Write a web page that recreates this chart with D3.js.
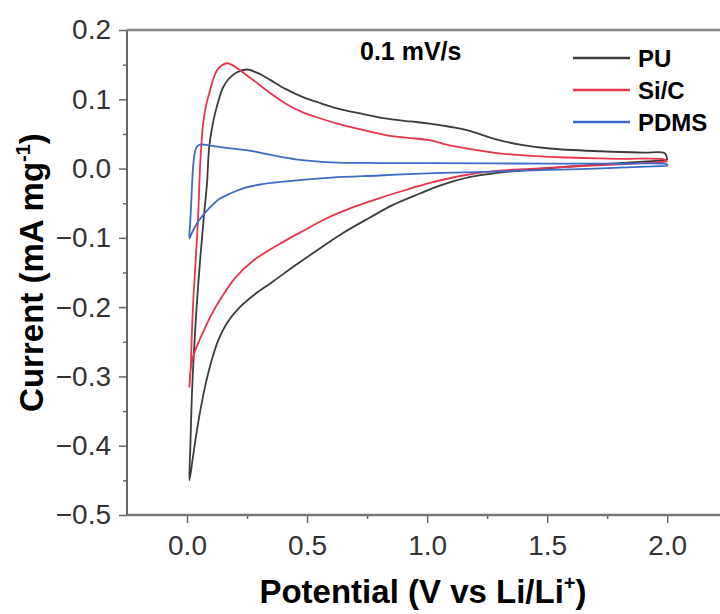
<!DOCTYPE html>
<html lang="en">
  <head>
    <meta charset="UTF-8" />
    <title>Cyclic voltammetry at 0.1 mV/s</title>
    <script src="https://d3js.org/d3.v7.min.js"></script>
    <style>
      body {
        margin: 0;
        background: #fff;
        font-family: "Liberation Sans", Arial, sans-serif;
      }
      .tick-label {
        font-size: 28px;
        fill: #333;
      }
      .cv-line {
        fill: none;
        stroke-width: 1.8;
        stroke-linejoin: round;
      }
    </style>
  </head>
  <body>
    <svg width="720" height="614" id="chart"></svg>

    <script>
      // series names + colors (legend order)
      const seriesNames = ["PU", "Si/C", "PDMS"];
      const seriesColors = ["#3c3c3c", "#e8344c", "#3d6bc6"];

      // [potential (V), current (mA mg-1)]
      // each loop: cathodic sweep 2.0 -> 0.01 V, then anodic back to 2.0 V
      const puCurve = [
        [2.0, 0.012], [1.8, 0.008], [1.6, 0.003], [1.45, -0.001], [1.3, -0.006],
        [1.18, -0.012], [1.05, -0.025], [0.97, -0.036], [0.86, -0.052],
        [0.76, -0.071], [0.65, -0.093], [0.55, -0.116], [0.45, -0.14],
        [0.35, -0.165], [0.28, -0.182], [0.22, -0.2], [0.17, -0.221],
        [0.13, -0.248], [0.1, -0.28], [0.075, -0.315], [0.055, -0.35],
        [0.038, -0.385], [0.024, -0.418], [0.01, -0.45],
        [0.014, -0.4], [0.02, -0.33], [0.028, -0.27], [0.04, -0.2],
        [0.055, -0.13], [0.07, -0.07], [0.083, -0.022], [0.092, 0.03],
        [0.105, 0.06], [0.117, 0.08], [0.133, 0.1], [0.15, 0.117],
        [0.175, 0.13], [0.208, 0.139], [0.25, 0.143], [0.3, 0.137],
        [0.346, 0.128], [0.41, 0.115], [0.483, 0.103], [0.55, 0.095],
        [0.625, 0.087], [0.73, 0.079], [0.833, 0.072], [0.93, 0.068],
        [1.01, 0.065], [1.1, 0.06], [1.17, 0.055], [1.3, 0.041],
        [1.4, 0.034], [1.51, 0.029], [1.72, 0.025], [1.9, 0.023],
        [1.99, 0.022], [2.0, 0.012]
      ];

      const sicCurve = [
        [2.0, 0.01], [1.8, 0.006], [1.6, 0.003], [1.45, 0.0], [1.3, -0.003],
        [1.15, -0.01], [1.02, -0.02], [0.9, -0.032], [0.79, -0.044],
        [0.69, -0.056], [0.58, -0.072], [0.483, -0.09], [0.38, -0.11],
        [0.275, -0.133], [0.2, -0.158], [0.14, -0.188], [0.1, -0.212],
        [0.067, -0.236], [0.045, -0.253], [0.025, -0.272], [0.015, -0.29],
        [0.01, -0.315],
        [0.015, -0.29], [0.02, -0.24], [0.026, -0.19], [0.033, -0.15],
        [0.046, -0.071], [0.054, 0.001], [0.06, 0.035], [0.067, 0.065],
        [0.08, 0.092], [0.096, 0.113], [0.11, 0.13], [0.125, 0.142],
        [0.145, 0.149], [0.167, 0.152], [0.185, 0.15], [0.208, 0.145],
        [0.24, 0.137], [0.275, 0.128], [0.346, 0.109], [0.41, 0.094],
        [0.483, 0.081], [0.55, 0.073], [0.625, 0.065], [0.73, 0.056],
        [0.833, 0.048], [0.93, 0.044], [1.01, 0.041], [1.1, 0.033],
        [1.2, 0.027], [1.3, 0.022], [1.45, 0.018], [1.58, 0.016],
        [1.8, 0.014], [1.99, 0.013], [2.0, 0.01]
      ];

      const pdmsCurve = [
        [2.0, 0.004], [1.7, 0.0], [1.5, -0.002], [1.2, -0.005], [1.0, -0.007],
        [0.8, -0.01], [0.6, -0.013], [0.46, -0.017], [0.32, -0.022],
        [0.24, -0.028], [0.18, -0.036], [0.13, -0.045], [0.096, -0.056],
        [0.065, -0.068], [0.04, -0.08], [0.02, -0.093], [0.01, -0.101],
        [0.013, -0.08], [0.018, -0.046], [0.025, 0.001], [0.032, 0.022],
        [0.04, 0.031], [0.05, 0.034], [0.062, 0.035], [0.096, 0.033],
        [0.18, 0.029], [0.24, 0.027], [0.29, 0.024], [0.36, 0.019],
        [0.46, 0.013], [0.6, 0.009], [0.8, 0.008], [1.0, 0.008],
        [1.5, 0.007], [1.8, 0.007], [2.0, 0.006], [2.0, 0.004]
      ];

      const curves = [puCurve, sicCurve, pdmsCurve];

      const xTicks = [0.0, 0.5, 1.0, 1.5, 2.0];
      const yTicks = [-0.5, -0.4, -0.3, -0.2, -0.1, 0.0, 0.1, 0.2];
      const xMinorTicks = [0.25, 0.75, 1.25, 1.75];
      const yMinorTicks = [-0.45, -0.35, -0.25, -0.15, -0.05, 0.05, 0.15];

      const svg = d3.select("#chart");
      const width = +svg.attr("width");
      const height = +svg.attr("height");

      const margins = { top: 30, right: 0, bottom: 99, left: 127 };
      const chartWidth = width - margins.left - margins.right;
      const chartHeight = height - margins.top - margins.bottom;

      const xScale = d3.scaleLinear().domain([-0.25, 2.22]).range([0, chartWidth]);
      const yScale = d3.scaleLinear().domain([-0.5, 0.2]).range([chartHeight, 0]);

      const chartArea = svg
        .append("g")
        .attr("transform", `translate(${margins.left},${margins.top})`);

      const axisColor = "#666";
      const fmt = (d) => d3.format(".1f")(d).replace("-", "\u2212");

      // x axis (major + minor)
      const xAxis = chartArea
        .append("g")
        .attr("transform", `translate(0,${chartHeight})`);
      xAxis
        .call(d3.axisBottom(xScale).tickValues(xTicks).tickSize(8).tickFormat(fmt))
        .call((g) => g.select(".domain").remove());
      xAxis
        .append("g")
        .call(d3.axisBottom(xScale).tickValues(xMinorTicks).tickSize(4).tickFormat(""))
        .call((g) => g.select(".domain").remove());
      xAxis.selectAll("line").attr("stroke", axisColor).attr("stroke-width", 1.5);
      xAxis
        .selectAll(".tick text")
        .attr("class", "tick-label")
        .attr("y", 20)
        .attr("dy", "0.71em");

      // y axis (major + minor)
      const yAxis = chartArea.append("g");
      yAxis
        .call(d3.axisLeft(yScale).tickValues(yTicks).tickSize(8).tickFormat(fmt))
        .call((g) => g.select(".domain").remove());
      yAxis
        .append("g")
        .call(d3.axisLeft(yScale).tickValues(yMinorTicks).tickSize(4).tickFormat(""))
        .call((g) => g.select(".domain").remove());
      yAxis.selectAll("line").attr("stroke", axisColor).attr("stroke-width", 1.5);
      yAxis
        .selectAll(".tick text")
        .attr("class", "tick-label")
        .attr("x", -16);

      // frame: left, bottom, top
      chartArea
        .append("line")
        .attr("x1", 0).attr("x2", 0)
        .attr("y1", 0).attr("y2", chartHeight)
        .attr("stroke", axisColor).attr("stroke-width", 2);
      chartArea
        .append("line")
        .attr("x1", 0).attr("x2", chartWidth)
        .attr("y1", chartHeight).attr("y2", chartHeight)
        .attr("stroke", "#777").attr("stroke-width", 2.5);
      chartArea
        .append("line")
        .attr("x1", 0).attr("x2", chartWidth)
        .attr("y1", 0).attr("y2", 0)
        .attr("stroke", "#888").attr("stroke-width", 2.5);

      // curves
      const lineGen = d3
        .line()
        .x((d) => xScale(d[0]))
        .y((d) => yScale(d[1]))
        .curve(d3.curveCatmullRom.alpha(0.5));

      curves.forEach((curve, i) => {
        chartArea
          .append("path")
          .datum(curve)
          .attr("class", "cv-line")
          .attr("stroke", seriesColors[i])
          .attr("d", lineGen);
      });

      // scan rate label
      svg
        .append("text")
        .attr("x", 360)
        .attr("y", 60)
        .attr("font-size", 25)
        .attr("font-weight", "bold")
        .text("0.1 mV/s");

      // legend
      seriesNames.forEach((name, i) => {
        const ly = 58 + i * 32;
        svg
          .append("line")
          .attr("x1", 573).attr("x2", 630)
          .attr("y1", ly).attr("y2", ly)
          .attr("stroke", seriesColors[i])
          .attr("stroke-width", 2.5);
        svg
          .append("text")
          .attr("x", 638)
          .attr("y", ly)
          .attr("dy", "0.36em")
          .attr("font-size", 24)
          .attr("font-weight", "bold")
          .text(name);
      });

      // axis titles
      const xTitle = svg
        .append("text")
        .attr("x", 423)
        .attr("y", 603)
        .attr("text-anchor", "middle")
        .attr("font-size", 33)
        .attr("font-weight", "bold");
      xTitle.append("tspan").text("Potential (V vs Li/Li");
      xTitle.append("tspan").attr("font-size", 20).attr("dy", -13).text("+");
      xTitle.append("tspan").attr("dy", 13).text(")");

      const yTitle = svg
        .append("text")
        .attr("transform", `translate(43,${margins.top + chartHeight / 2}) rotate(-90)`)
        .attr("text-anchor", "middle")
        .attr("font-size", 33)
        .attr("font-weight", "bold");
      yTitle.append("tspan").text("Current (mA mg");
      yTitle.append("tspan").attr("font-size", 20).attr("dy", -13).text("-1");
      yTitle.append("tspan").attr("dy", 13).text(")");
    </script>
  </body>
</html>
